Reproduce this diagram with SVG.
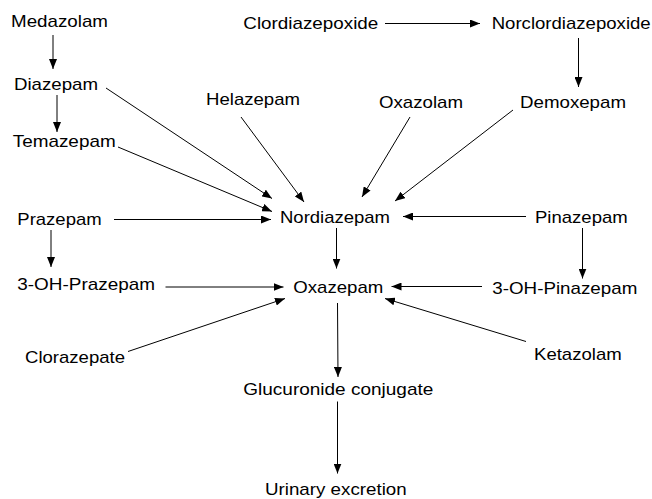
<svg xmlns="http://www.w3.org/2000/svg" width="652" height="499" viewBox="0 0 652 499">
  <style>
    text { font-family: "Liberation Sans", Arial, sans-serif; font-size: 17px; fill: #000; }
    .edge { stroke: #000; stroke-width: 1; fill: none; marker-end: url(#arrow); }
  </style>
  <defs>
    <marker id="arrow" markerUnits="userSpaceOnUse" markerWidth="10" markerHeight="8" refX="10" refY="4" orient="auto">
      <path d="M0,0 L10,4 L0,8 z" fill="#000"/>
    </marker>
  </defs>
  <rect width="652" height="499" fill="#fff"/>

  <g id="connectors">
    <line class="edge" x1="53" y1="35" x2="53" y2="69"/>
    <line class="edge" x1="57" y1="95" x2="57" y2="132"/>
    <line class="edge" x1="385" y1="23.5" x2="480" y2="23.5"/>
    <line class="edge" x1="578.5" y1="38" x2="578.5" y2="87"/>
    <line class="edge" x1="106" y1="88" x2="272" y2="198.5"/>
    <line class="edge" x1="118" y1="147" x2="272" y2="211.5"/>
    <line class="edge" x1="241" y1="117" x2="304" y2="202"/>
    <line class="edge" x1="410" y1="117" x2="362" y2="197"/>
    <line class="edge" x1="513" y1="110" x2="395" y2="201"/>
    <line class="edge" x1="114" y1="219.5" x2="271" y2="219.5"/>
    <line class="edge" x1="526" y1="216.5" x2="403" y2="216.5"/>
    <line class="edge" x1="336.5" y1="228" x2="336.5" y2="268.5"/>
    <line class="edge" x1="51" y1="230" x2="51" y2="267"/>
    <line class="edge" x1="582.5" y1="228" x2="582.5" y2="278.5"/>
    <line class="edge" x1="165.5" y1="287" x2="283.5" y2="287"/>
    <line class="edge" x1="482" y1="286.5" x2="391.5" y2="286.5"/>
    <line class="edge" x1="128" y1="351.5" x2="285" y2="298.5"/>
    <line class="edge" x1="526" y1="341.5" x2="385" y2="298.5"/>
    <line class="edge" x1="337.5" y1="303" x2="338" y2="377"/>
    <line class="edge" x1="337.5" y1="401.5" x2="337.5" y2="473.5"/>
  </g>

  <g id="medazolam"><text x="11" y="27" textLength="97" lengthAdjust="spacingAndGlyphs">Medazolam</text></g>
  <g id="diazepam"><text x="14" y="89.5" textLength="84" lengthAdjust="spacingAndGlyphs">Diazepam</text></g>
  <g id="temazepam"><text x="12.7" y="146.5" textLength="103" lengthAdjust="spacingAndGlyphs">Temazepam</text></g>
  <g id="clordiazepoxide"><text x="243.3" y="28.5" textLength="135" lengthAdjust="spacingAndGlyphs">Clordiazepoxide</text></g>
  <g id="norclordiazepoxide"><text x="491.7" y="28.5" textLength="159" lengthAdjust="spacingAndGlyphs">Norclordiazepoxide</text></g>
  <g id="helazepam"><text x="206" y="104.5" textLength="94" lengthAdjust="spacingAndGlyphs">Helazepam</text></g>
  <g id="oxazolam"><text x="379" y="108.3" textLength="84" lengthAdjust="spacingAndGlyphs">Oxazolam</text></g>
  <g id="demoxepam"><text x="520" y="108" textLength="106" lengthAdjust="spacingAndGlyphs">Demoxepam</text></g>
  <g id="nordiazepam"><text x="280" y="223" textLength="110" lengthAdjust="spacingAndGlyphs">Nordiazepam</text></g>
  <g id="prazepam"><text x="17.3" y="225" textLength="84.4" lengthAdjust="spacingAndGlyphs">Prazepam</text></g>
  <g id="pinazepam"><text x="535" y="223.3" textLength="92.7" lengthAdjust="spacingAndGlyphs">Pinazepam</text></g>
  <g id="oh-prazepam"><text x="17.3" y="290" textLength="137.7" lengthAdjust="spacingAndGlyphs">3-OH-Prazepam</text></g>
  <g id="oxazepam"><text x="293.3" y="292.7" textLength="90" lengthAdjust="spacingAndGlyphs">Oxazepam</text></g>
  <g id="oh-pinazepam"><text x="492.3" y="293.5" textLength="145" lengthAdjust="spacingAndGlyphs">3-OH-Pinazepam</text></g>
  <g id="clorazepate"><text x="25" y="362.7" textLength="100" lengthAdjust="spacingAndGlyphs">Clorazepate</text></g>
  <g id="ketazolam"><text x="534" y="360" textLength="87.7" lengthAdjust="spacingAndGlyphs">Ketazolam</text></g>
  <g id="glucuronide"><text x="243.3" y="395" textLength="190" lengthAdjust="spacingAndGlyphs">Glucuronide conjugate</text></g>
  <g id="urinary"><text x="265" y="495" textLength="141.7" lengthAdjust="spacingAndGlyphs">Urinary excretion</text></g>
</svg>
